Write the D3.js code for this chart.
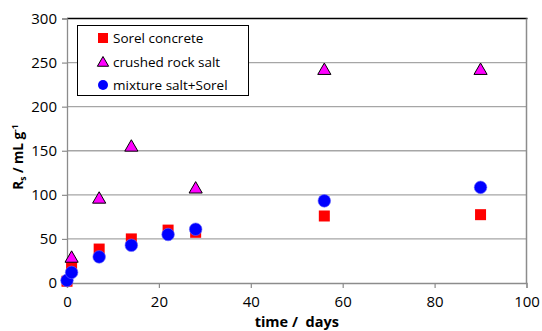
<!DOCTYPE html>
<html>
<head>
<meta charset="utf-8">
<script src="https://cdn.jsdelivr.net/npm/d3@7"></script>
<style>
  html, body { margin: 0; padding: 0; background: #fff; }
  svg { display: block; font-family: "Open Sans", "Liberation Sans", sans-serif; }
</style>
</head>
<body>
<svg id="chart" width="542" height="331"></svg>
<script>
// Retention of sorbent over time for three materials
const seriesNames = ["Sorel concrete", "crushed rock salt", "mixture salt+Sorel"];

const sorelDays   = [0, 1, 7, 14, 22, 28, 56, 90];
const sorelValues = [2, 19.5, 38.5, 50, 60, 57.5, 76, 77.5];

const saltDays    = [1, 7, 14, 28, 56, 90];
const saltValues  = [29, 96, 155, 107.5, 242, 242];

const mixDays     = [0, 1, 7, 14, 22, 28, 56, 90];
const mixValues   = [3, 12, 29.6, 42.8, 55, 61, 93.2, 108.5];

const xTicks = [0, 20, 40, 60, 80, 100];
const yTicks = [0, 50, 100, 150, 200, 250, 300];

const svg = d3.select("#chart");
const plotL = 67, plotR = 526.5, plotT = 18.5, plotB = 283;

const x = d3.scaleLinear().domain([0, 100]).range([plotL, plotR]);
const y = d3.scaleLinear().domain([0, 300]).range([plotB, plotT]);

// horizontal gridlines
svg.append("g").selectAll("line").data(yTicks.filter(v => v > 0 && v < 300)).join("line")
  .attr("x1", plotL).attr("x2", plotR)
  .attr("y1", d => y(d)).attr("y2", d => y(d))
  .attr("stroke", "#a6a6a6").attr("stroke-width", 1.3);

// plot frame: top black, right gray
svg.append("line").attr("x1", plotL).attr("x2", plotR + 1).attr("y1", plotT).attr("y2", plotT)
  .attr("stroke", "#000").attr("stroke-width", 1.3);
svg.append("line").attr("x1", plotR).attr("x2", plotR).attr("y1", plotT).attr("y2", plotB)
  .attr("stroke", "#8c8c8c").attr("stroke-width", 1.5);

// axes
const yAxis = d3.axisLeft(y).tickValues(yTicks).tickSize(5).tickPadding(5);
const xAxis = d3.axisBottom(x).tickValues(xTicks).tickSize(5).tickPadding(8);

const gy = svg.append("g").attr("transform", `translate(${plotL},0)`).call(yAxis);
const gx = svg.append("g").attr("transform", `translate(0,${plotB})`).call(xAxis);
[gx, gy].forEach(g => {
  g.select(".domain").attr("stroke", "#8c8c8c").attr("stroke-width", 1.3);
  g.selectAll(".tick line").attr("stroke", "#8c8c8c").attr("stroke-width", 1.2);
  g.selectAll(".tick text").attr("fill", "#000").style("font-size", "15px")
    .style("font-family", "'Open Sans', sans-serif");
});

// axis titles
svg.append("text").attr("x", (plotL + plotR) / 2).attr("y", 327)
  .attr("text-anchor", "middle").style("font-weight", "bold").style("font-size", "14.5px")
  .style("white-space", "pre")
  .text("time /  days");

const yt = svg.append("text")
  .attr("transform", "translate(23,157) rotate(-90)")
  .attr("text-anchor", "middle").style("font-weight", "bold").style("font-size", "13.5px");
yt.append("tspan").text("R");
yt.append("tspan").attr("dy", 3).style("font-size", "8.5px").text("s");
yt.append("tspan").attr("dy", -3).text(" / mL g");
yt.append("tspan").attr("dy", -5).style("font-size", "8.5px").text("-1");

// markers
const sq = 11;
svg.append("g").selectAll("rect").data(d3.zip(sorelDays, sorelValues)).join("rect")
  .attr("x", d => x(d[0]) - sq / 2).attr("y", d => y(d[1]) - sq / 2)
  .attr("width", sq).attr("height", sq).attr("fill", "#ff0000");

const tri = d3.symbol().type(d3.symbolTriangle).size(75);
svg.append("g").selectAll("path").data(d3.zip(saltDays, saltValues)).join("path")
  .attr("d", tri)
  .attr("transform", d => `translate(${x(d[0])},${y(d[1]) + 1})`)
  .attr("fill", "#ff00ff").attr("stroke", "#000").attr("stroke-width", 1);

svg.append("g").selectAll("circle").data(d3.zip(mixDays, mixValues)).join("circle")
  .attr("cx", d => x(d[0])).attr("cy", d => y(d[1])).attr("r", 6.3)
  .attr("fill", "#0000ff").attr("stroke", "#6a6aff").attr("stroke-width", 0.6);

// legend
const lg = svg.append("g");
lg.append("rect").attr("x", 77.5).attr("y", 25.5).attr("width", 171).attr("height", 70)
  .attr("fill", "#fff").attr("stroke", "#000").attr("stroke-width", 1);
const rowY = [38, 62, 85];
lg.append("rect").attr("x", 98).attr("y", rowY[0] - 5).attr("width", 10).attr("height", 10).attr("fill", "#ff0000");
lg.append("path").attr("d", d3.symbol().type(d3.symbolTriangle).size(55))
  .attr("transform", `translate(103,${rowY[1] + 1})`)
  .attr("fill", "#ff00ff").attr("stroke", "#000").attr("stroke-width", 1);
lg.append("circle").attr("cx", 103).attr("cy", rowY[2]).attr("r", 5).attr("fill", "#0000ff");
lg.selectAll("text").data(seriesNames).join("text")
  .attr("x", 113).attr("y", (d, i) => rowY[i]).attr("dy", "0.35em")
  .style("font-size", "13.5px").text(d => d);
</script>
</body>
</html>
